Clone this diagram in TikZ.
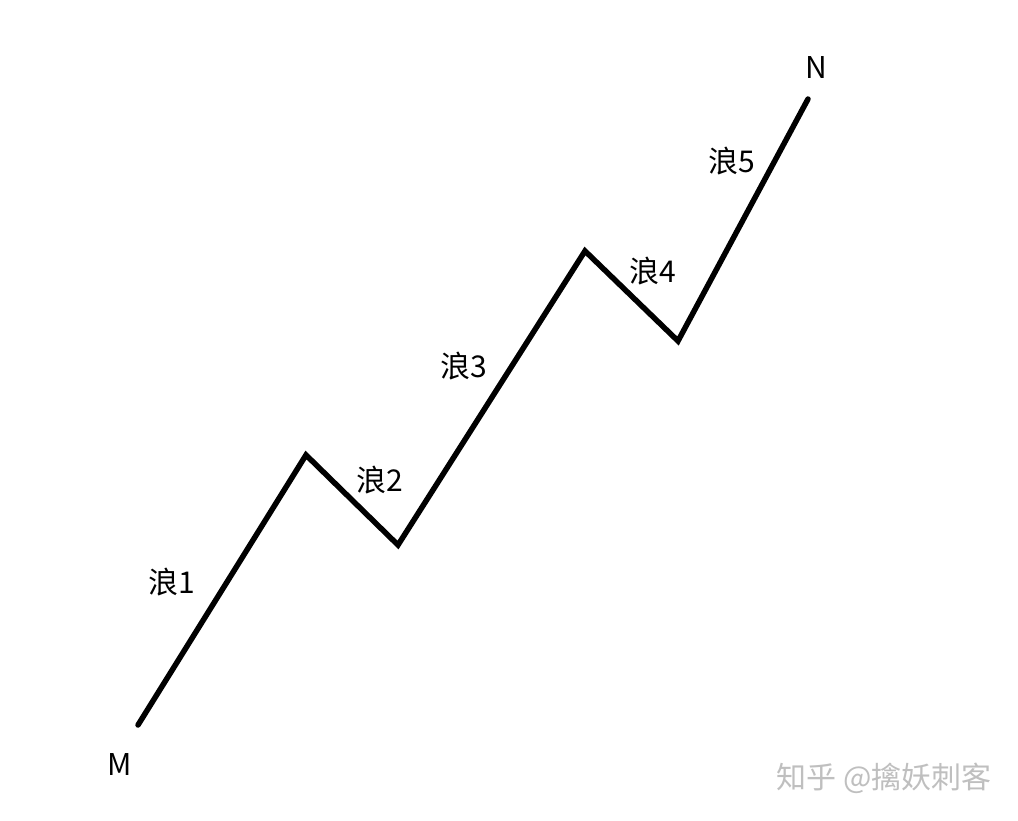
\documentclass[tikz,border=0pt]{standalone}
\usepackage{fontspec}
\newfontfamily\cjk{Noto Sans CJK SC}
\begin{document}
\begin{tikzpicture}[x=1pt,y=-1pt,
  lbl/.style={font=\cjk\fontsize{30}{34}\selectfont, inner sep=0pt},
  wave/.style={line width=5.5pt, line join=miter, line cap=round}]
\useasboundingbox (0,0) rectangle (1018,820);
\fill[white] (0,0) rectangle (1018,820);
\coordinate (m) at (138,725);
\coordinate (p1) at (306,455);
\coordinate (t2) at (398,545);
\coordinate (p3) at (585,251);
\coordinate (t4) at (678,341);
\coordinate (n) at (808,99);
\draw[wave] (m) -- (p1) -- (t2) -- (p3) -- (t4) -- (n);
\node[lbl] (lm) at (120,764) {M};
\node[lbl] (ln) at (816,67) {N};
\node[lbl] (l1) at (172,582) {浪1};
\node[lbl] (l2) at (380,480) {浪2};
\node[lbl] (l3) at (464,366) {浪3};
\node[lbl] (l4) at (653,271) {浪4};
\node[lbl] (l5) at (732,161) {浪5};
\node[lbl, text=black!25, font=\cjk\fontsize{30}{34}\selectfont] (wm) at (884,778) {知乎 @擒妖刺客};
\end{tikzpicture}
\end{document}
